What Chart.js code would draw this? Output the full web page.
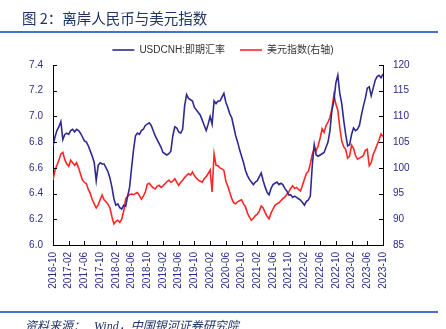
<!DOCTYPE html>
<html>
<head>
<meta charset="utf-8">
<script src="https://cdn.jsdelivr.net/npm/chart.js@4.4.1/dist/chart.umd.min.js"></script>
<style>
  html, body { margin: 0; padding: 0; background: #fff; width: 446px; height: 329px; overflow: hidden; }
  #wrap { position: relative; width: 446px; height: 329px; }
  #chartBox { position: absolute; left: 0; top: 0; width: 446px; height: 329px; }
  .title { position: absolute; left: 22px; top: 7px; font: 14.5px "Noto Sans CJK SC", sans-serif; color: #1f3366; white-space: nowrap; }
  .rule { position: absolute; left: 0; width: 438px; height: 2px; background: #4472c4; }
  .source { position: absolute; left: 25px; top: 316px; font: italic 12px "Liberation Serif", "Noto Sans CJK SC", serif; color: #1f3366; white-space: nowrap; }
</style>
</head>
<body>
<div id="wrap">
  <div id="chartBox"><canvas id="fxChart" width="446" height="329"></canvas></div>
  <div class="title">图 2：离岸人民币与美元指数</div>
  <div class="rule" style="top:31px"></div>
  <div class="rule" style="top:311px"></div>
  <div class="source">资料来源：&nbsp;&nbsp; Wind，中国银河证券研究院</div>
</div>
<script>
// x axis: months since 2016-10, one point every half month
const tickLabels = ['2016-10', '2017-02', '2017-06', '2017-10', '2018-02', '2018-06', '2018-10',
  '2019-02', '2019-06', '2019-10', '2020-02', '2020-06', '2020-10', '2021-02', '2021-06',
  '2021-10', '2022-02', '2022-06', '2022-10', '2023-02', '2023-06', '2023-10'];

// USDCNH spot (left axis)
const usdcnh = [
  6.77, 6.84, 6.89, 6.92, 6.96, 6.82, 6.86, 6.87, 6.86, 6.89, 6.90, 6.88, 6.90, 6.89, 6.87, 6.84,
  6.81, 6.80, 6.77, 6.73, 6.69, 6.64, 6.50, 6.62, 6.64, 6.63, 6.63, 6.60, 6.57, 6.52, 6.45, 6.36,
  6.31, 6.32, 6.29, 6.28, 6.31, 6.30, 6.38, 6.45, 6.60, 6.74, 6.85, 6.87, 6.86, 6.89, 6.90, 6.93,
  6.94, 6.95, 6.93, 6.89, 6.85, 6.82, 6.79, 6.76, 6.72, 6.71, 6.70, 6.71, 6.73, 6.85, 6.92, 6.91,
  6.88, 6.87, 6.90, 7.08, 7.17, 7.14, 7.13, 7.12, 7.07, 7.05, 7.03, 7.01, 6.97, 6.93, 6.89, 6.94,
  7.00, 6.94, 7.12, 7.10, 7.12, 7.12, 7.15, 7.18, 7.11, 7.07, 7.02, 6.99, 6.92, 6.85, 6.80, 6.74,
  6.69, 6.64, 6.58, 6.54, 6.51, 6.49, 6.47, 6.49, 6.50, 6.53, 6.56, 6.50, 6.45, 6.41, 6.39, 6.44,
  6.47, 6.48, 6.49, 6.47, 6.48, 6.47, 6.44, 6.42, 6.39, 6.39, 6.37, 6.38, 6.37, 6.36, 6.35, 6.33,
  6.31, 6.34, 6.35, 6.38, 6.62, 6.78, 6.70, 6.69, 6.70, 6.71, 6.72, 6.76, 6.80, 6.89, 7.05, 7.12,
  7.26, 7.32, 7.18, 7.10, 6.97, 6.86, 6.77, 6.78, 6.86, 6.91, 6.89, 6.90, 6.93, 7.01, 7.08, 7.14,
  7.22, 7.23, 7.16, 7.22, 7.28, 7.31, 7.32, 7.30, 7.33
];

// US dollar index (right axis)
const dxy = [
  97.6, 99.5, 100.5, 101.5, 102.7, 103.0, 101.6, 100.8, 100.3, 101.5, 101.0, 100.5, 101.0, 100.0, 98.8, 97.6,
  97.2, 96.9, 95.8, 95.0, 93.8, 93.0, 92.2, 92.8, 93.8, 94.7, 93.8, 93.4, 92.9, 92.2, 90.5, 89.1,
  89.6, 89.8, 89.4, 90.0, 91.6, 94.0, 94.5, 94.8, 94.9, 94.8, 95.0, 95.2, 94.6, 93.9, 94.5, 95.3,
  96.8, 97.0, 96.5, 96.1, 95.9, 96.4, 96.6, 96.2, 96.5, 96.9, 97.3, 97.6, 97.2, 97.4, 97.9, 97.2,
  96.6, 97.2, 97.6, 98.1, 98.5, 98.9, 98.6, 99.2, 98.5, 98.0, 97.6, 97.4, 97.2, 97.9, 98.3, 98.9,
  99.6, 95.3, 102.7, 100.5, 100.4, 100.0, 99.8, 99.5, 97.4, 96.4, 95.2, 94.0, 93.2, 93.0, 93.4, 93.6,
  93.8, 93.0, 92.4, 91.2, 90.4, 89.8, 90.2, 90.7, 91.0, 91.6, 92.6, 92.2, 91.3, 90.6, 90.1, 91.2,
  92.0, 92.7, 93.0, 93.2, 93.6, 94.0, 94.3, 94.8, 95.3, 96.0, 96.5, 96.0, 96.2, 95.8, 95.5, 96.6,
  97.8, 98.9, 99.3, 100.8, 102.6, 103.9, 103.4, 104.3, 105.8, 107.6, 106.9, 108.2, 108.9, 109.8, 111.5, 114.2,
  112.4, 111.2, 107.8, 105.2, 104.1, 103.6, 101.9, 102.3, 104.4, 103.8, 102.4, 101.7, 101.9, 102.1, 102.4, 103.4,
  103.6, 100.4, 101.0, 102.6, 103.5, 104.5, 105.4, 106.6, 106.1
];

const tickColor = '#2b2b8a';
const tickFont = { family: '"Liberation Sans", Arial, sans-serif', size: 10 };

// small tick marks pointing into the plot
const innerTicks = {
  id: 'innerTicks',
  afterDatasetsDraw(chart) {
    const { ctx, chartArea: a, scales } = chart;
    ctx.save();
    ctx.strokeStyle = '#000';
    ctx.lineWidth = 1;
    ctx.beginPath();
    scales.x.ticks.forEach(t => {
      const px = Math.round(scales.x.getPixelForValue(t.value)) + 0.5;
      ctx.moveTo(px, a.bottom); ctx.lineTo(px, a.bottom - 4);
    });
    scales.y.ticks.forEach(t => {
      const py = Math.round(scales.y.getPixelForValue(t.value)) + 0.5;
      ctx.moveTo(a.left, py); ctx.lineTo(a.left + 4, py);
    });
    scales.y1.ticks.forEach(t => {
      const py = Math.round(scales.y1.getPixelForValue(t.value)) + 0.5;
      ctx.moveTo(a.right, py); ctx.lineTo(a.right - 4, py);
    });
    ctx.stroke();
    ctx.restore();
  }
};

const ctx = document.getElementById('fxChart').getContext('2d');
const fxChart = new Chart(ctx, {
  type: 'line',
  data: {
    datasets: [{
      label: 'USDCNH:即期汇率',
      data: usdcnh.map((v, i) => ({ x: i / 2, y: v })),
      borderColor: '#2e2a92',
      backgroundColor: '#2e2a92',
      borderWidth: 1.6,
      pointRadius: 0,
      pointStyle: 'line',
      tension: 0,
      yAxisID: 'y'
    }, {
      label: '美元指数(右轴)',
      data: dxy.map((v, i) => ({ x: i / 2, y: v })),
      borderColor: '#ff2626',
      backgroundColor: '#ff2626',
      borderWidth: 1.6,
      pointRadius: 0,
      pointStyle: 'line',
      tension: 0,
      yAxisID: 'y1'
    }]
  },
  options: {
    responsive: false,
    animation: false,
    events: [],
    layout: { padding: { top: 30, left: 0, right: 0, bottom: 0 } },
    plugins: {
      tooltip: { enabled: false },
      legend: {
        position: 'top',
        labels: {
          usePointStyle: true,
          pointStyleWidth: 22,
          padding: 15,
          color: '#333',
          font: { family: '"Liberation Sans", Arial, "Noto Sans CJK SC", sans-serif', size: 10 }
        }
      }
    },
    scales: {
      x: {
        type: 'linear',
        min: 0,
        max: 84,
        grid: { display: false, drawTicks: false },
        border: { display: true, color: '#000', width: 1 },
        ticks: {
          stepSize: 4,
          autoSkip: false,
          minRotation: 90,
          maxRotation: 90,
          padding: 7,
          color: tickColor,
          font: tickFont,
          callback: v => tickLabels[v / 4]
        },
        afterFit: s => { s.height = 84; }
      },
      y: {
        position: 'left',
        min: 6.0,
        max: 7.4,
        grid: { display: false, drawTicks: false },
        border: { display: true, color: '#000', width: 1 },
        ticks: { stepSize: 0.2, padding: 10, color: tickColor, font: tickFont, callback: v => v.toFixed(1) },
        afterFit: s => { s.width = 53; }
      },
      y1: {
        position: 'right',
        min: 85,
        max: 120,
        grid: { display: false, drawTicks: false },
        border: { display: true, color: '#000', width: 1 },
        ticks: { stepSize: 5, padding: 10, color: tickColor, font: tickFont },
        afterFit: s => { s.width = 63; }
      }
    }
  },
  plugins: [innerTicks]
});
</script>
</body>
</html>
